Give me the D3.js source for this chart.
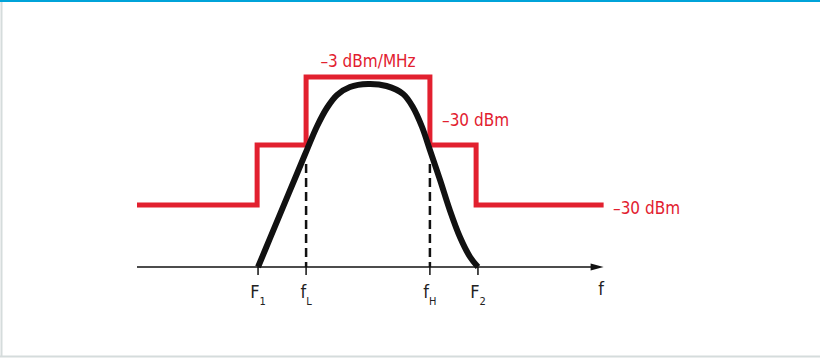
<meta charset="utf-8">
<body></body>
<script src="https://d3js.org/d3.v7.min.js"></script>
<script>
// frequency marks (units relative to channel centre)
var tickNames = ["F", "f", "f", "F"];
var tickSubs = ["1", "L", "H", "2"];
var tickFreq = [-2.38, -1.34, 1.34, 2.38];

// spectral mask (red), stepped
var maskFreq = [-5, -2.4, -1.34, 1.34, 2.34, 5.1];
var maskLevel = [31, 61, 95, 61, 31, 31];

// signal spectrum (black)
var sigFreq = [-2.38, -2.12, -1.84, -1.54, -1.32, -1.10, -0.89, -0.67, -0.39, 0.0,
               0.40, 0.76, 0.97, 1.17, 1.34, 1.56, 1.77, 1.99, 2.21, 2.38];
var sigLevel = [0, 14.4, 29.9, 46.5, 58.7, 70.5, 79.5, 86, 90, 91.5,
                90.5, 86.5, 80, 70, 58.5, 43.5, 28.5, 15, 5, 0];

var dashFreq = [-1.34, 1.34];
var dashTop = 51.5;

var red = "#e2202f";

var svg = d3.select("body")
  .append("svg")
  .attr("width", 820)
  .attr("height", 360);

// frame
svg.append("rect").attr("x", 0).attr("y", 0).attr("width", 820).attr("height", 360).attr("fill", "#fff");
svg.append("line").attr("x1", 1.5).attr("x2", 1.5).attr("y1", 0).attr("y2", 357)
  .attr("stroke", "#d5dcdc").attr("stroke-width", 2);
svg.append("line").attr("x1", 0).attr("x2", 820).attr("y1", 356.5).attr("y2", 356.5)
  .attr("stroke", "#d5dcdc").attr("stroke-width", 2);
svg.append("line").attr("x1", 0).attr("x2", 820).attr("y1", 1).attr("y2", 1)
  .attr("stroke", "#00a3d9").attr("stroke-width", 2);

var x = d3.scaleLinear().domain([-5, 5]).range([137, 599]);
var y = d3.scaleLinear().domain([0, 100]).range([267, 67]);

// axis with arrow
svg.append("line")
  .attr("x1", x(-5)).attr("x2", x(5.1) - 10)
  .attr("y1", y(0)).attr("y2", y(0))
  .attr("stroke", "#111").attr("stroke-width", 1.5);
svg.append("path")
  .attr("d", "M" + (x(5.1) - 13) + "," + (y(0) - 3.5) + "L" + x(5.1) + "," + y(0) + "L" + (x(5.1) - 13) + "," + (y(0) + 3.5) + "Z")
  .attr("fill", "#111");

svg.selectAll("line.tick")
  .data(tickFreq)
  .enter().append("line")
  .attr("class", "tick")
  .attr("x1", function(d) { return x(d); })
  .attr("x2", function(d) { return x(d); })
  .attr("y1", y(0)).attr("y2", y(0) + 8)
  .attr("stroke", "#111").attr("stroke-width", 1.5);

var lab = svg.selectAll("text.tl")
  .data(tickFreq)
  .enter().append("text")
  .attr("class", "tl")
  .attr("x", function(d) { return x(d); })
  .attr("y", 298)
  .attr("text-anchor", "middle");
lab.append("tspan").text(function(d, i) { return tickNames[i]; }).style("font-size", "18px");
lab.append("tspan").attr("dy", 7).text(function(d, i) { return tickSubs[i]; }).style("font-size", "11px");

svg.append("text").attr("class", "ax")
  .attr("x", 601).attr("y", 295).attr("text-anchor", "middle")
  .style("font-size", "18px").text("f");

// dashed drops
svg.selectAll("line.dash")
  .data(dashFreq)
  .enter().append("line")
  .attr("class", "dash")
  .attr("x1", function(d) { return x(d); })
  .attr("x2", function(d) { return x(d); })
  .attr("y1", y(dashTop)).attr("y2", y(0))
  .attr("stroke", "#111").attr("stroke-width", 2.5)
  .attr("stroke-dasharray", "9,5");

// mask
var mask = maskFreq.map(function(d, i) { return [d, maskLevel[i]]; });
svg.append("path")
  .datum(mask)
  .attr("d", d3.line().x(function(d) { return x(d[0]); }).y(function(d) { return y(d[1]); }).curve(d3.curveStepAfter))
  .attr("fill", "none")
  .attr("stroke", red)
  .attr("stroke-width", 5);

// signal
var sig = sigFreq.map(function(d, i) { return [d, sigLevel[i]]; });
svg.append("path")
  .datum(sig)
  .attr("d", d3.line().x(function(d) { return x(d[0]); }).y(function(d) { return y(d[1]); }).curve(d3.curveCatmullRom.alpha(0.5)))
  .attr("fill", "none")
  .attr("stroke", "#111")
  .attr("stroke-width", 6)
  .attr("stroke-linejoin", "round");

// mask labels
svg.append("text").attr("class", "ml").attr("x", x(0)).attr("y", 67)
  .attr("text-anchor", "middle").text("\u20133 dBm/MHz");
svg.append("text").attr("class", "ml").attr("x", 442).attr("y", 126)
  .text("\u201330 dBm");
svg.append("text").attr("class", "ml").attr("x", 613).attr("y", 214)
  .text("\u201330 dBm");
</script>
<style>
body { margin: 0; }
svg text {
  font-family: "Liberation Sans Narrow", "DejaVu Sans Condensed", Roboto, sans-serif;
  fill: #222;
}
svg text.ml {
  font-size: 17px;
  fill: #e2202f;
}
</style>
